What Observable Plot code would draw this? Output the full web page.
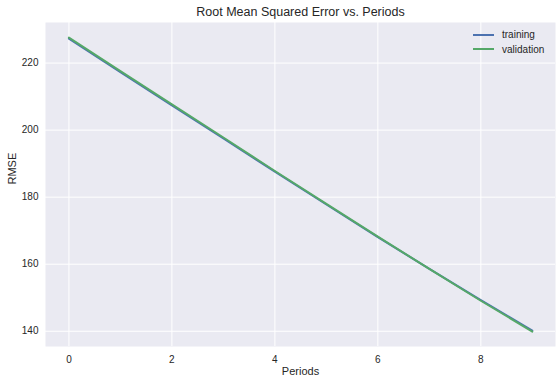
<!DOCTYPE html>
<html>
<head>
<meta charset="utf-8">
<script src="https://cdn.jsdelivr.net/npm/d3@7"></script>
<script src="https://cdn.jsdelivr.net/npm/@observablehq/plot@0.6"></script>
<style>
  html, body { margin: 0; padding: 0; background: #fff; }
  #wrap { position: relative; width: 560px; height: 384px; font-family: "Liberation Sans", Arial, sans-serif; }
  #legend { position: absolute; left: 473px; top: 27.5px; font-size: 10px; color: #262626; }
  #legend div { display: flex; align-items: center; height: 14.6px; }
  #legend span.sw { display: inline-block; width: 21px; height: 2px; margin-right: 8px; }
</style>
</head>
<body>
<div id="wrap"></div>
<script>
const title = "Root Mean Squared Error vs. Periods";
const xLabel = "Periods";
const yLabel = "RMSE";
const periods = [0, 1, 2, 3, 4, 5, 6, 7, 8, 9];
const training = [227.3, 217.3, 207.4, 197.5, 187.6, 177.8, 168.1, 158.6, 149.3, 140.2];
const validation = [227.6, 217.6, 207.7, 197.8, 187.8, 178.0, 168.2, 158.6, 149.1, 139.9];
const seriesNames = ["training", "validation"];
const seriesColors = ["#4C72B0", "#55A868"];
const xTicks = [0, 2, 4, 6, 8];
const yTicks = [140, 160, 180, 200, 220];

const data = [];
periods.forEach((p, i) => {
  data.push({period: p, rmse: training[i], series: seriesNames[0]});
  data.push({period: p, rmse: validation[i], series: seriesNames[1]});
});

const chart = Plot.plot({
  width: 560,
  height: 384,
  marginLeft: 45,
  marginRight: 5,
  marginTop: 22,
  marginBottom: 38,
  style: {fontFamily: "Liberation Sans, Arial, sans-serif", fontSize: "10px", color: "#262626", background: "#fff"},
  x: {domain: [-0.455, 9.45]},
  y: {domain: [135.45, 232.1]},
  color: {domain: seriesNames, range: seriesColors},
  marks: [
    Plot.frame({fill: "#EAEAF2", stroke: null}),
    Plot.gridX(xTicks, {stroke: "#fff", strokeOpacity: 1, strokeWidth: 1}),
    Plot.gridY(yTicks, {stroke: "#fff", strokeOpacity: 1, strokeWidth: 1}),
    Plot.axisX(xTicks, {tickSize: 0, tickPadding: 9, label: null, fill: "#262626"}),
    Plot.axisY(yTicks, {tickSize: 0, tickPadding: 7, label: null, fill: "#262626"}),
    Plot.line(data, {x: "period", y: "rmse", z: "series", stroke: "series", strokeWidth: 2}),
    Plot.text([title], {frameAnchor: "top", dy: -11, lineAnchor: "middle", fontSize: 12.5, fill: "#262626"}),
    Plot.text([xLabel], {frameAnchor: "bottom", dy: 24.5, lineAnchor: "middle", fontSize: 11, fill: "#262626"}),
    Plot.text([yLabel], {frameAnchor: "left", dx: -33.5, rotate: -90, fontSize: 11, fill: "#262626"})
  ]
});

const wrap = document.getElementById("wrap");
wrap.appendChild(chart);
const legend = document.createElement("div");
legend.id = "legend";
seriesNames.forEach((n, i) => {
  const row = document.createElement("div");
  const sw = document.createElement("span");
  sw.className = "sw";
  sw.style.background = seriesColors[i];
  row.appendChild(sw);
  row.appendChild(document.createTextNode(n));
  legend.appendChild(row);
});
wrap.appendChild(legend);
</script>
</body>
</html>
